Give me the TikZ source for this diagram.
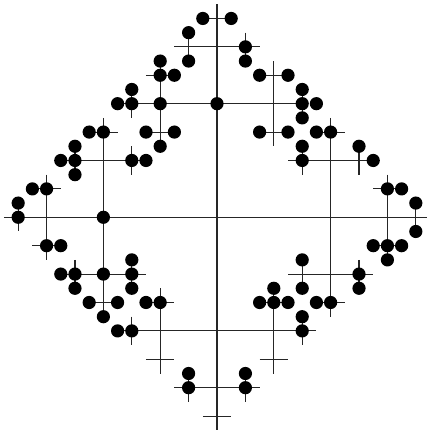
\documentclass[tikz,border=0pt]{standalone}
\begin{document}
\begin{tikzpicture}[x=14.2pt,y=14.2pt,
  wire/.style={line width=1.1pt,draw=black!85},
  dot/.style={fill=black}]
\useasboundingbox (-15.28,-15.26) rectangle (14.72,15.30);
% main axes
\draw[wire] (0,15) -- (0,-15);
\draw[wire] (-15,0) -- (15,0);
% top
\draw[wire] (-1,14) -- (1,14);
\draw[wire] (-3,12) -- (3,12);
\draw[wire] (-2,13) -- (-2,11);
\draw[wire] (2,13) -- (2,11);
% bottom
\draw[wire] (-1,-14) -- (1,-14);
\draw[wire] (-3,-12) -- (3,-12);
\draw[wire] (-2,-11) -- (-2,-13);
\draw[wire] (2,-11) -- (2,-13);
% y=8 and y=-8 bars
\draw[wire] (-7,8) -- (6,8);
\draw[wire] (-7,-8) -- (7,-8);
% upper-left block
\draw[wire] (-4,11) -- (-4,5);
\draw[wire] (-5,10) -- (-3,10);
\draw[wire] (-5,6) -- (-3,6);
\draw[wire] (-6,9) -- (-6,7);
% upper-right block
\draw[wire] (4,11) -- (4,5);
\draw[wire] (3,10) -- (5,10);
\draw[wire] (3,6) -- (5,6);
\draw[wire] (6,9) -- (6,7);
% lower-left block
\draw[wire] (-4,-5) -- (-4,-11);
\draw[wire] (-5,-6) -- (-3,-6);
\draw[wire] (-5,-10) -- (-3,-10);
\draw[wire] (-6,-7) -- (-6,-9);
% lower-right block
\draw[wire] (4,-5) -- (4,-11);
\draw[wire] (3,-6) -- (5,-6);
\draw[wire] (3,-10) -- (5,-10);
\draw[wire] (6,-7) -- (6,-9);
% left column x=-8
\draw[wire] (-8,7) -- (-8,-7);
\draw[wire] (-9,6) -- (-7,6);
\draw[wire] (-9,-6) -- (-7,-6);
\draw[wire] (-11,4) -- (-5,4);
\draw[wire] (-11,-4) -- (-5,-4);
\draw[wire] (-10,5) -- (-10,3);
\draw[wire] (-10,-3) -- (-10,-5);
\draw[wire] (-6,5) -- (-6,3);
\draw[wire] (-6,-3) -- (-6,-5);
% right column x=8
\draw[wire] (8,7) -- (8,-7);
\draw[wire] (7,6) -- (9,6);
\draw[wire] (7,-6) -- (9,-6);
\draw[wire] (5,4) -- (11,4);
\draw[wire] (5,-4) -- (11,-4);
\draw[wire] (6,5) -- (6,3);
\draw[wire] (6,-3) -- (6,-5);
\draw[wire] (10,5) -- (10,3);
\draw[wire] (10,-3) -- (10,-5);
% far left
\draw[wire] (-12,3) -- (-12,-3);
\draw[wire] (-13,2) -- (-11,2);
\draw[wire] (-13,-2) -- (-11,-2);
\draw[wire] (-14,1) -- (-14,-1);
% far right
\draw[wire] (12,3) -- (12,-3);
\draw[wire] (11,2) -- (13,2);
\draw[wire] (11,-2) -- (13,-2);
\draw[wire] (14,1) -- (14,-1);
% dots
\foreach \p in {
  (-1,14),(1,14),(-2,13),(-2,11),(2,12),(2,11),
  (-4,11),(-4,10),(-3,10),(-5,6),(-3,6),(-4,5),
  (-6,9),(-6,8),(-7,8),(-4,8),(0,8),
  (3,10),(5,10),(3,6),(5,6),(6,9),(6,8),(7,8),(6,7),
  (-9,6),(-8,6),(-11,4),(-10,4),(-10,5),(-10,3),(-6,4),(-5,4),
  (-13,2),(-12,2),(-14,1),(-14,0),(-8,0),
  (-12,-2),(-11,-2),
  (-11,-4),(-10,-4),(-8,-4),(-6,-4),(-10,-5),(-6,-3),(-6,-5),
  (-9,-6),(-7,-6),(-8,-7),(-5,-6),(-4,-6),
  (-7,-8),(-6,-8),
  (-2,-11),(-2,-12),(2,-11),(2,-12),
  (7,6),(8,6),(6,4),(6,5),(11,4),(10,5),
  (12,2),(13,2),(14,1),(14,-1),
  (11,-2),(12,-2),(13,-2),(12,-3),
  (6,-3),(6,-5),(10,-4),(10,-5),
  (4,-5),(3,-6),(4,-6),(5,-6),(7,-6),(8,-6),
  (6,-7),(6,-8)}
  \fill[dot] \p circle (6.6pt);
\end{tikzpicture}
\end{document}
